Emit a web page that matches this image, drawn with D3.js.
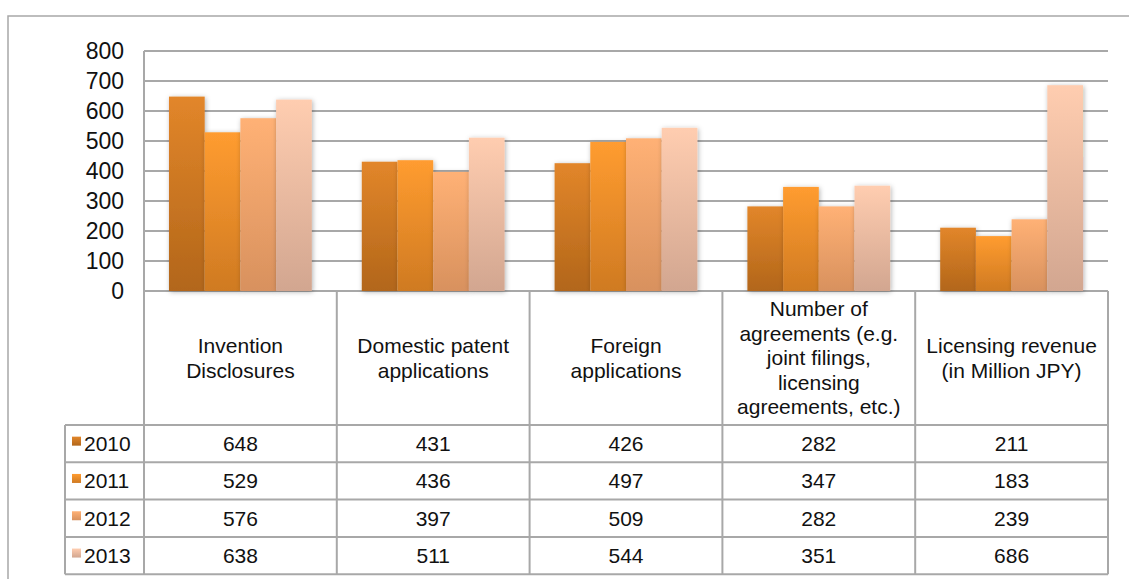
<!DOCTYPE html>
<html>
<head>
<meta charset="utf-8">
<script src="https://cdn.jsdelivr.net/npm/d3@7"></script>
<style>
  html, body { margin: 0; padding: 0; background: #fff; }
  svg { display: block; font-family: "Liberation Sans", Arial, Helvetica, sans-serif; }
</style>
</head>
<body>
<svg id="chart" width="1129" height="579"></svg>
<script>
// Categories (header labels are split into display lines)
const categories = [
  ["Invention", "Disclosures"],
  ["Domestic patent", "applications"],
  ["Foreign", "applications"],
  ["Number of", "agreements (e.g.", "joint filings,", "licensing", "agreements, etc.)"],
  ["Licensing revenue", "(in Million JPY)"]
];
const years = ["2010", "2011", "2012", "2013"];
const values2010 = [648, 431, 426, 282, 211];
const values2011 = [529, 436, 497, 347, 183];
const values2012 = [576, 397, 509, 282, 239];
const values2013 = [638, 511, 544, 351, 686];
const yTicks = [0, 100, 200, 300, 400, 500, 600, 700, 800];

// Gradient stops per series: [top, bottom]
const seriesColors = [
  ["#e2862a", "#b2661a"],
  ["#ff9c30", "#cf7a22"],
  ["#ffb175", "#d8915e"],
  ["#ffcdb0", "#d2a690"]
];

const series = [values2010, values2011, values2012, values2013];
const catKeys = categories.map((c, i) => "c" + i);

const svg = d3.select("#chart");
const W = 1129, H = 579;
const plotL = 144, plotR = 1108, plotT = 51, plotB = 291;
const tableL = 65, rowTop = 425, rowH = 37.3;
const gridColor = "#a8a8a8";
const textSize = 21;

const defs = svg.append("defs");
seriesColors.forEach((c, i) => {
  const g = defs.append("linearGradient")
    .attr("id", "grad" + i).attr("x1", 0).attr("y1", 0).attr("x2", 0).attr("y2", 1);
  g.append("stop").attr("offset", "0%").attr("stop-color", c[0]);
  g.append("stop").attr("offset", "100%").attr("stop-color", c[1]);
});
const shadow = defs.append("filter").attr("id", "shadow")
  .attr("x", "-30%").attr("y", "-10%").attr("width", "160%").attr("height", "120%");
shadow.append("feDropShadow").attr("dx", 1).attr("dy", 1)
  .attr("stdDeviation", 2.5).attr("flood-color", "#000").attr("flood-opacity", 0.3);

// Outer frame
svg.append("path")
  .attr("d", `M8,${H} L8,16 L${W},16`)
  .attr("fill", "none").attr("stroke", "#a8a8a8").attr("stroke-width", 1.5);

// Scales
const x0 = d3.scaleBand().domain(catKeys).range([plotL, plotR]).paddingInner(0).paddingOuter(0);
const x1 = d3.scaleBand().domain(years).range([0, x0.bandwidth()]).paddingInner(0).paddingOuter(0.7);
const y = d3.scaleLinear().domain([0, 800]).range([plotB, plotT]);

// Gridlines
svg.append("g").selectAll("line").data(yTicks).join("line")
  .attr("x1", plotL).attr("x2", plotR)
  .attr("y1", d => y(d)).attr("y2", d => y(d))
  .attr("stroke", gridColor).attr("stroke-width", 2);

// Y axis labels
const yAxis = d3.axisLeft(y).tickValues(yTicks).tickSize(0).tickPadding(20);
const yg = svg.append("g").attr("transform", `translate(${plotL},0)`).call(yAxis);
yg.select(".domain").remove();
yg.selectAll("text")
  .attr("font-size", 23).attr("fill", "#111")
  .attr("font-family", "'Liberation Sans', Arial, Helvetica, sans-serif");

// Bars
const barsG = svg.append("g");
years.forEach((yr, si) => {
  barsG.append("g").selectAll("rect").data(series[si]).join("rect")
    .attr("x", (d, i) => x0(catKeys[i]) + x1(yr))
    .attr("y", d => y(d))
    .attr("width", x1.bandwidth())
    .attr("height", d => y(0) - y(d))
    .attr("fill", `url(#grad${si})`)
    .attr("filter", "url(#shadow)");
});

// Data table lines
const tableBottom = rowTop + rowH * years.length;
const tbl = svg.append("g").attr("stroke", gridColor).attr("stroke-width", 2).attr("fill", "none");
// Left axis line through header and rows
tbl.append("line").attr("x1", plotL).attr("x2", plotL).attr("y1", plotT).attr("y2", tableBottom);
// Category separators
catKeys.forEach(k => {
  tbl.append("line")
    .attr("x1", x0(k) + x0.bandwidth()).attr("x2", x0(k) + x0.bandwidth())
    .attr("y1", plotB).attr("y2", tableBottom);
});
// Row lines
for (let r = 0; r <= years.length; r++) {
  tbl.append("line").attr("x1", tableL).attr("x2", plotR)
    .attr("y1", rowTop + r * rowH).attr("y2", rowTop + r * rowH);
}
tbl.append("line").attr("x1", tableL).attr("x2", tableL).attr("y1", rowTop).attr("y2", tableBottom);

// Category header labels
const headerMid = (plotB + rowTop) / 2;
const lineH = 24.5;
categories.forEach((lines, i) => {
  const cx = x0(catKeys[i]) + x0.bandwidth() / 2;
  const t = svg.append("text").attr("text-anchor", "middle")
    .attr("font-size", textSize).attr("fill", "#111");
  lines.forEach((ln, j) => {
    t.append("tspan").attr("x", cx)
      .attr("y", headerMid + (j - (lines.length - 1) / 2) * lineH)
      .attr("dy", "0.35em").text(ln);
  });
});

// Rows: legend key + values
years.forEach((yr, si) => {
  const cy = rowTop + si * rowH + rowH / 2;
  svg.append("rect").attr("x", 72).attr("y", cy - 7).attr("width", 9).attr("height", 9)
    .attr("fill", `url(#grad${si})`);
  svg.append("text").attr("x", 84).attr("y", cy).attr("dy", "0.35em")
    .attr("font-size", textSize).attr("fill", "#111").text(yr);
  svg.append("g").selectAll("text").data(series[si]).join("text")
    .attr("x", (d, i) => x0(catKeys[i]) + x0.bandwidth() / 2)
    .attr("y", cy).attr("dy", "0.35em")
    .attr("text-anchor", "middle").attr("font-size", textSize).attr("fill", "#111")
    .text(d => d);
});
</script>
</body>
</html>
